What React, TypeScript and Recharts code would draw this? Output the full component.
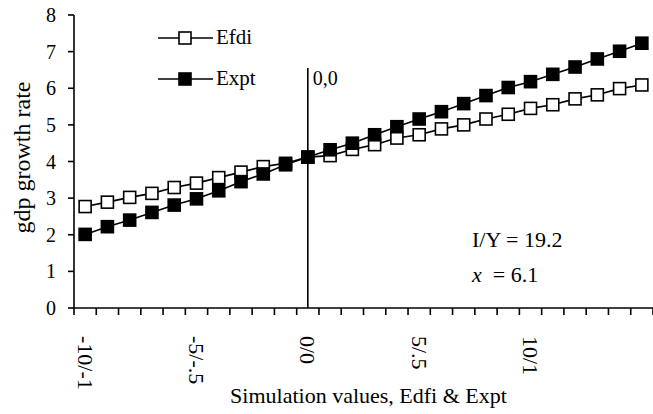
import { Label, Line, LineChart, ReferenceLine, XAxis, YAxis } from "recharts";

// simulation pairs (Edfi / Expt) along the x axis
const categories = [
  "-10/-1", "-9/-.9", "-8/-.8", "-7/-.7", "-6/-.6", "-5/-.5", "-4/-.4", "-3/-.3",
  "-2/-.2", "-1/-.1", "0/0", "1/.1", "2/.2", "3/.3", "4/.4", "5/.5", "6/.6",
  "7/.7", "8/.8", "9/.9", "10/1", "11/1.1", "12/1.2", "13/1.3", "14/1.4", "15/1.5",
];
const efdi = [
  2.77, 2.89, 3.02, 3.13, 3.29, 3.41, 3.56, 3.71, 3.86, 3.95, 4.12, 4.16, 4.33,
  4.46, 4.64, 4.73, 4.89, 5.0, 5.16, 5.29, 5.45, 5.55, 5.71, 5.82, 5.99, 6.09,
];
const expt = [
  2.01, 2.22, 2.4, 2.61, 2.81, 2.98, 3.2, 3.45, 3.66, 3.91, 4.12, 4.32, 4.5,
  4.73, 4.95, 5.16, 5.36, 5.58, 5.8, 6.02, 6.18, 6.38, 6.58, 6.8, 7.01, 7.23,
];
const labelTicks = [0, 5, 10, 15, 20];
const yTicks = [0, 1, 2, 3, 4, 5, 6, 7, 8];

const data = categories.map((c, i) => ({ x: i, cat: c, efdi: efdi[i], expt: expt[i] }));
// tick marks sit between categories, like a category axis
const boundaries = [...categories.map((_, i) => i - 0.5), categories.length - 0.5];

const FONT = "Liberation Serif";

function SquareDot({ cx, cy, index, filled }: any) {
  if (cx == null || cy == null) return null;
  return (
    <rect
      key={index}
      x={cx - 6}
      y={cy - 6}
      width={12}
      height={12}
      fill={filled ? "#000" : "#fff"}
      stroke="#000"
      strokeWidth={1.6}
    />
  );
}

function CatLabel({ x, y, payload }: any) {
  return (
    <text
      transform={`translate(${x},${y + 12}) rotate(90)`}
      textAnchor="start"
      dominantBaseline="central"
      style={{ fontFamily: FONT, fontSize: 22 }}
      fill="#000"
    >
      {categories[payload.value]}
    </text>
  );
}

function LegendBox() {
  const rows = [
    { name: "Efdi", filled: false },
    { name: "Expt", filled: true },
  ];
  return (
    <div style={{ position: "absolute", left: 158, top: 17, fontFamily: FONT, fontSize: 21, color: "#000" }}>
      {rows.map((r) => (
        <div key={r.name} style={{ display: "flex", alignItems: "center", height: 41 }}>
          <svg width={55} height={16}>
            <line x1={0} y1={8} x2={55} y2={8} stroke="#000" strokeWidth={1.6} />
            <rect x={21} y={2} width={12} height={12} fill={r.filled ? "#000" : "#fff"} stroke="#000" strokeWidth={1.6} />
          </svg>
          <span style={{ marginLeft: 3 }}>{r.name}</span>
        </div>
      ))}
    </div>
  );
}

export default function App() {
  return (
    <div style={{ position: "absolute", left: 0, top: 0, width: 653, height: 414, background: "#fff", fontFamily: FONT }}>
      <LineChart
        width={653}
        height={414}
        data={data}
        margin={{ top: 15, right: 0, bottom: 0, left: 0 }}
        style={{ fontFamily: FONT }}
      >
        <XAxis
          xAxisId="b"
          type="number"
          dataKey="x"
          domain={[-0.5, categories.length - 0.5]}
          ticks={labelTicks}
          tick={<CatLabel />}
          tickLine={false}
          axisLine={false}
          height={98}
          interval={0}
        >
          <Label
            content={({ viewBox }: any) => (
              <text
                x={viewBox.x + viewBox.width / 2 + 5}
                y={viewBox.y + viewBox.height - 11}
                textAnchor="middle"
                style={{ fontFamily: FONT, fontSize: 22 }}
                fill="#000"
              >
                Simulation values, Edfi &amp; Expt
              </text>
            )}
          />
        </XAxis>
        <XAxis
          xAxisId="a"
          type="number"
          dataKey="x"
          domain={[-0.5, categories.length - 0.5]}
          ticks={boundaries}
          tick={() => <g />}
          tickSize={7}
          height={8}
          interval={0}
          axisLine={{ stroke: "#000", strokeWidth: 1.6 }}
          tickLine={{ stroke: "#000", strokeWidth: 1.6 }}
          allowDataOverflow
        />
        <YAxis
          domain={[0, 8]}
          ticks={yTicks}
          interval={0}
          width={74}
          tickSize={6}
          tickMargin={12}
          axisLine={{ stroke: "#000", strokeWidth: 1.6 }}
          tickLine={{ stroke: "#000", strokeWidth: 1.6 }}
          tick={{ fill: "#000", fontSize: 20, fontFamily: FONT }}
        >
          <Label
            content={({ viewBox }: any) => (
              <text
                transform={`translate(${viewBox.x + 22},${viewBox.y + viewBox.height / 2 - 4}) rotate(-90)`}
                textAnchor="middle"
                dominantBaseline="central"
                style={{ fontFamily: FONT, fontSize: 24 }}
                fill="#000"
              >
                gdp growth rate
              </text>
            )}
          />
        </YAxis>
        <ReferenceLine
          xAxisId="a"
          segment={[{ x: 10, y: 0 }, { x: 10, y: 6.55 }]}
          stroke="#000"
          strokeWidth={1.6}
          label={({ viewBox }: any) => (
            <text x={viewBox.x + 5} y={viewBox.y + 17} style={{ fontFamily: FONT, fontSize: 20 }} fill="#000">
              0,0
            </text>
          )}
        />
        <Line
          xAxisId="a"
          dataKey="efdi"
          stroke="#000"
          strokeWidth={1.6}
          isAnimationActive={false}
          dot={(p: any) => <SquareDot {...p} key={p.index} filled={false} />}
        />
        <Line
          xAxisId="a"
          dataKey="expt"
          stroke="#000"
          strokeWidth={1.6}
          isAnimationActive={false}
          dot={(p: any) => <SquareDot {...p} key={p.index} filled />}
        />
      </LineChart>
      <LegendBox />
      <div style={{ position: "absolute", left: 472, top: 229, fontSize: 22, lineHeight: "22px", whiteSpace: "nowrap" }}>
        I/Y = 19.2
      </div>
      <div style={{ position: "absolute", left: 472, top: 264, fontSize: 22, lineHeight: "22px", whiteSpace: "nowrap" }}>
        <i>x</i> &nbsp;= 6.1
      </div>
    </div>
  );
}
